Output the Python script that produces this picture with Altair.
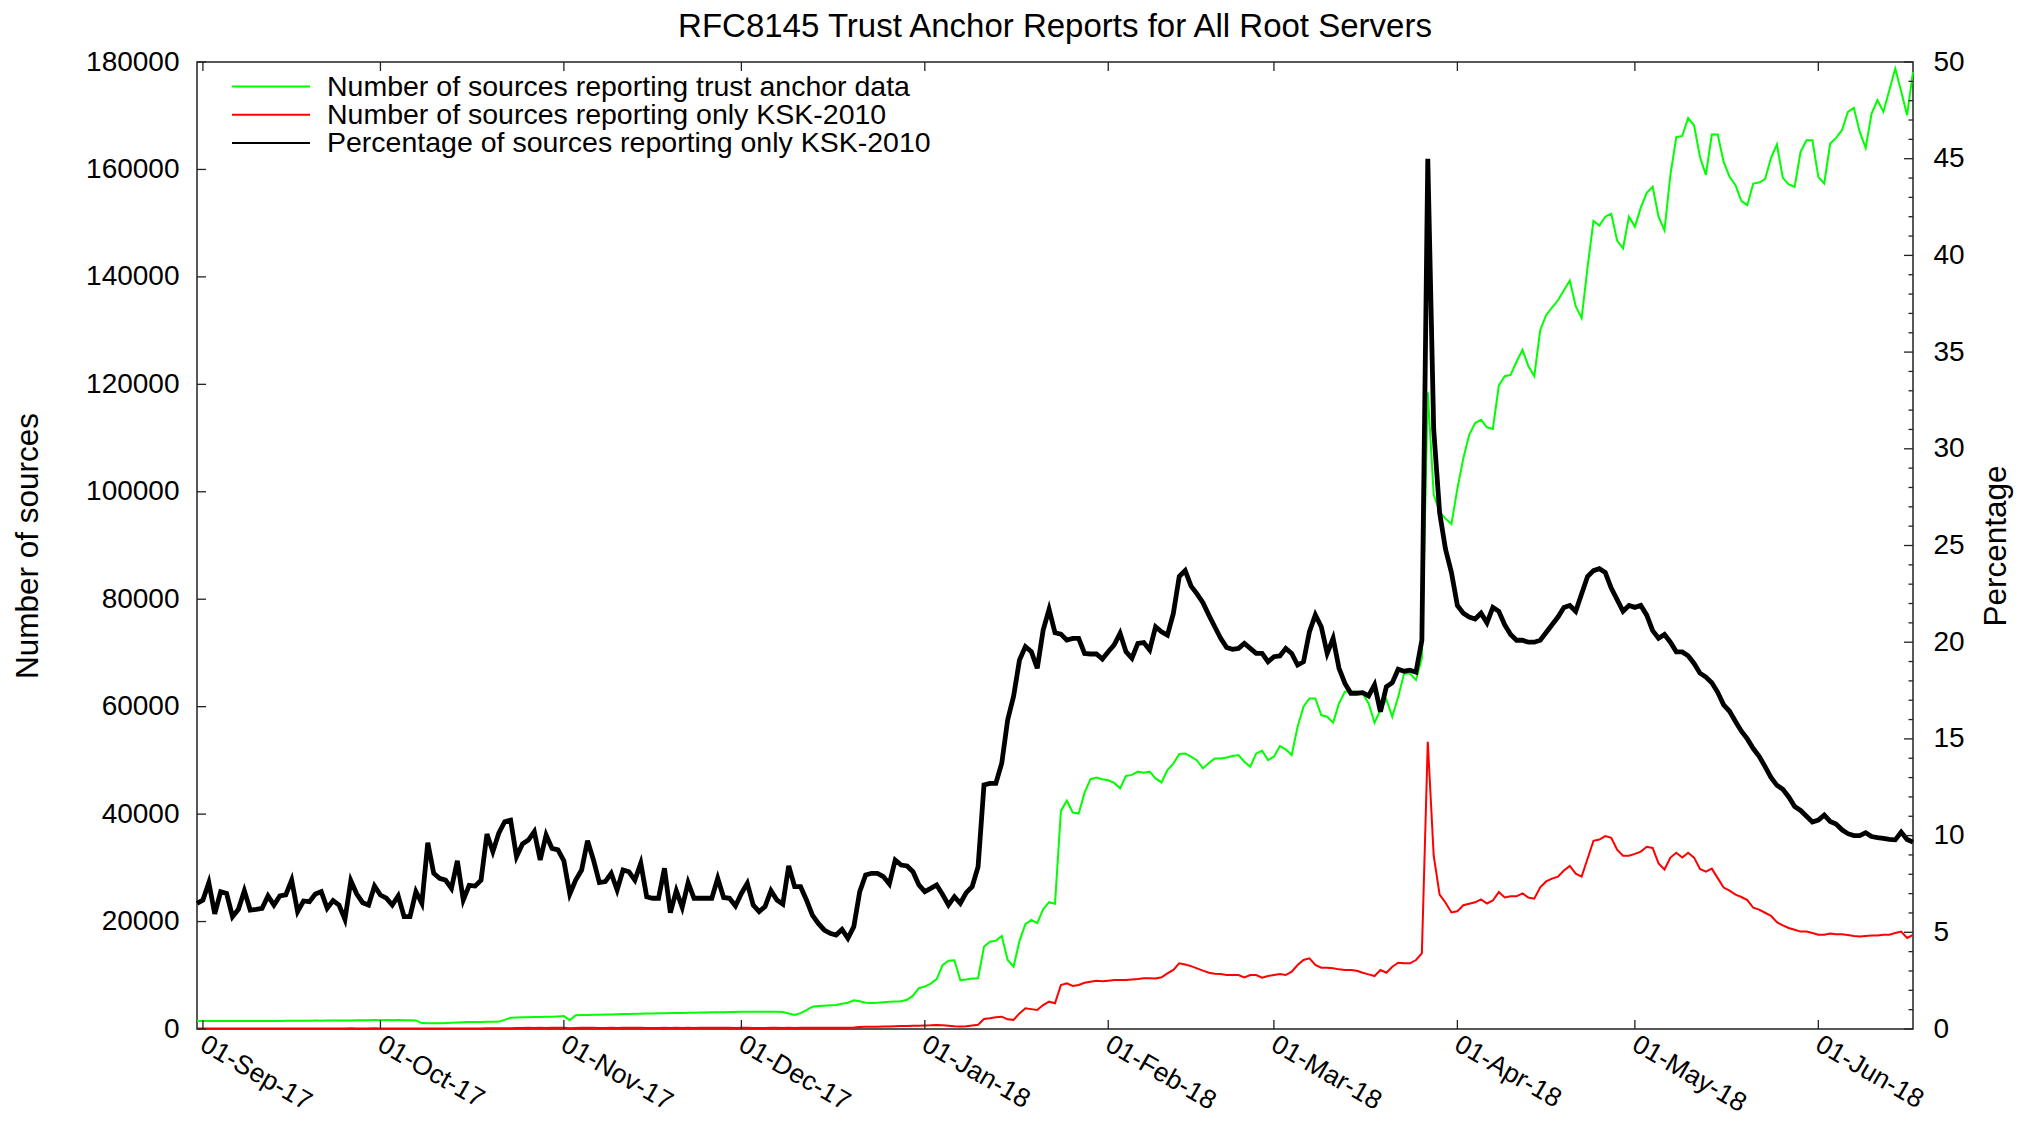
import altair as alt
import pandas as pd

# ---------------- data (daily, starting 31-Aug-2017) ----------------
START = "2017-08-31"
TITLE = "RFC8145 Trust Anchor Reports for All Root Servers"

TOTAL = [
    # 31 Aug - 30 Sep
    1490, 1480, 1500, 1470, 1480, 1490, 1500, 1480, 1470, 1480, 1500, 1510, 1500, 1490, 1510, 1530,
    1520, 1540, 1530, 1550, 1560, 1550, 1570, 1580, 1570, 1590, 1600, 1620, 1640, 1650, 1660,
    # Oct
    1650, 1660, 1650, 1660, 1650, 1640, 1600, 1100, 1050, 1060, 1080, 1100, 1150, 1200, 1250, 1280,
    1300, 1320, 1350, 1360, 1380, 1700, 2100, 2150, 2180, 2200, 2220, 2250, 2270, 2300, 2350,
    # Nov
    2400, 1650, 2550, 2600, 2620, 2640, 2660, 2700, 2720, 2740, 2770, 2800, 2830, 2850, 2880,
    2900, 2920, 2950, 2980, 3000, 3000, 3020, 3040, 3060, 3080, 3100, 3100, 3120, 3150, 3170,
    # Dec
    3200, 3220, 3230, 3220, 3200, 3210, 3230, 3150, 2900, 2620, 2950, 3500, 4150, 4300, 4340, 4400,
    4470, 4700, 4900, 5350, 5150, 4900, 4850, 4900, 5000, 5050, 5100, 5150, 5450, 6200, 7600,
    # Jan
    7900, 8450, 9300, 11900, 12700, 12800, 9100, 9200, 9400, 9450, 15300, 16250, 16450, 17300, 12840,
    11600, 16400, 19500, 20300, 19700, 22300, 23600, 23300, 40600, 42500, 40300, 40100, 44000, 46500,
    46800, 46500,
    # Feb
    46300, 45800, 44800, 47100, 47300, 47900, 47700, 47900, 46650, 45900, 48200, 49400, 51200, 51300,
    50700, 50000, 48510, 49500, 50370, 50370, 50557, 50800, 50990, 49750, 48820, 51300, 51800, 50060,
    # Mar
    50680, 52670, 52045, 50990, 56260, 59980, 61540, 61540, 58435, 58125, 57010, 60605, 62775, 62775,
    62775, 62466, 60605, 57010, 59366, 61350, 58125, 61850, 66190, 66190, 64950, 68980, 118500,
    99500, 96200, 95000, 94000,
    # Apr
    100600, 106200, 110600, 112800, 113400, 112000, 111700, 119750, 121520, 121750, 124200, 126420,
    123420, 121520, 130080, 132860, 134300, 135650, 137500, 139310, 134530, 132320, 141750, 150420,
    149550, 151210, 151760, 146760, 145330, 151210,
    # May
    149330, 152880, 155660, 156770, 151210, 148660, 158980, 166000, 166230, 169560, 168220, 162320,
    158980, 166500, 166500, 161410, 158620, 157070, 154090, 153350, 157380, 157570, 158190, 162150,
    164640, 158430, 157200, 156760, 163270, 165440, 165440,
    # Jun 1 - 17
    158620, 157380, 164820, 165880, 167300, 170720, 171460, 166990, 164020, 170410, 172890, 170720,
    174750, 178780, 174560, 170100, 178160,
]

KSK = [
    # 31 Aug - 30 Sep
    100, 100, 105, 95, 100, 100, 90, 95, 100, 95, 95, 95, 100, 100, 100, 105,
    115, 95, 100, 100, 105, 110, 100, 105, 105, 95, 120, 110, 105, 105, 120,
    # Oct
    115, 110, 110, 115, 95, 95, 115, 75, 100, 85, 80, 80, 85, 100, 80, 95,
    95, 100, 135, 125, 135, 150, 160, 190, 200, 210, 195, 220, 205, 215, 225,
    # Nov
    210, 120, 180, 215, 250, 220, 195, 200, 215, 195, 220, 225, 210, 240, 195,
    195, 200, 245, 180, 210, 190, 235, 205, 210, 210, 210, 240, 215, 215, 200,
    # Dec
    225, 240, 205, 195, 205, 230, 215, 200, 245, 190, 215, 235, 245, 235, 225, 220,
    215, 240, 230, 285, 365, 400, 420, 440, 450, 460, 500, 550, 580, 600, 620,
    # Jan
    650, 680, 750, 700, 600, 500, 450, 500, 650, 800, 1850, 1985, 2171, 2295, 1800,
    1700, 2900, 3846, 3700, 3536, 4466, 5086, 4777, 8188, 8499, 8002, 8188, 8600, 8809,
    8995, 8900,
    # Feb
    9000, 9119, 9119, 9119, 9200, 9300, 9429, 9429, 9400, 9615, 10360, 11000, 12220, 12000,
    11700, 11290, 10855, 10483, 10300, 10236, 10050, 10050, 10050, 9615, 10050, 10050, 9553, 9863,
    # Mar
    10050, 10236, 10050, 10670, 11910, 12841, 13150, 11910, 11410, 11410, 11290, 11100, 10980, 10980,
    10855, 10483, 10174, 9863, 10980, 10483, 11600, 12343, 12220, 12220, 12841, 14080, 53470,
    32260, 25030, 23500, 21690,
    # Apr
    21920, 23030, 23300, 23580, 24140, 23360, 23920, 25480, 24480, 24700, 24700, 25250,
    24480, 24250, 26370, 27470, 28000, 28360, 29500, 30370, 28920, 28360, 31690, 35040,
    35270, 35920, 35580, 33370, 32260, 32260,
    # May
    32590, 33030, 33930, 33700, 30820, 29700, 31920, 32810, 31920, 32810, 31900, 29800,
    29300, 29850, 28080, 26330, 25740, 25000, 24570, 23990, 22570, 22220, 21640, 21050,
    19880, 19300, 18800, 18480, 18130, 18130, 17880,
    # Jun 1 - 17
    17530, 17530, 17770, 17650, 17650, 17480, 17310, 17200, 17310, 17420, 17420, 17530,
    17530, 17880, 18130, 16950, 17530,
]

PCT = [
    # 31 Aug - 30 Sep
    6.50, 6.67, 7.57, 5.95, 7.10, 7.01, 5.81, 6.19, 7.15, 6.15, 6.19, 6.24, 6.88, 6.41, 6.88, 6.93,
    7.70, 6.07, 6.62, 6.58, 6.98, 7.10, 6.24, 6.64, 6.41, 5.67, 7.67, 6.98, 6.53, 6.41, 7.39,
    # Oct
    6.93, 6.76, 6.41, 6.88, 5.81, 5.81, 7.10, 6.50, 9.63, 8.05, 7.79, 7.70, 7.27, 8.70, 6.67, 7.43,
    7.39, 7.70, 10.08, 9.17, 10.12, 10.72, 10.80, 8.91, 9.57, 9.77, 10.20, 8.74, 10.03, 9.34, 9.26,
    # Nov
    8.70, 6.98, 7.70, 8.22, 9.74, 8.74, 7.57, 7.62, 8.05, 7.19, 8.22, 8.13, 7.70, 8.57, 6.84,
    6.76, 6.76, 8.31, 6.02, 7.15, 6.29, 7.57, 6.76, 6.76, 6.76, 6.76, 7.79, 6.80, 6.76, 6.36,
    # Dec
    7.01, 7.53, 6.41, 6.07, 6.33, 7.15, 6.67, 6.46, 8.43, 7.36, 7.36, 6.67, 5.89, 5.46, 5.12, 4.95,
    4.86, 5.15, 4.69, 5.29, 7.10, 7.96, 8.05, 8.05, 7.88, 7.50, 8.74, 8.48, 8.43, 8.13, 7.45,
    # Jan
    7.10, 7.27, 7.45, 6.95, 6.41, 6.84, 6.50, 7.05, 7.36, 8.39, 12.62, 12.70, 12.70, 13.74, 15.98,
    17.20, 19.08, 19.77, 19.51, 18.65, 20.63, 21.70, 20.49, 20.42, 20.11, 20.20, 20.20, 19.42, 19.39,
    19.39, 19.13,
    # Feb
    19.51, 19.86, 20.46, 19.51, 19.17, 19.94, 19.98, 19.60, 20.80, 20.54, 20.37, 21.49, 23.40, 23.70,
    22.90, 22.50, 22.04, 21.40, 20.80, 20.20, 19.73, 19.63, 19.68, 19.94, 19.68, 19.42, 19.42, 18.99,
    # Mar
    19.25, 19.29, 19.68, 19.42, 18.82, 18.99, 20.54, 21.41, 20.80, 19.42, 20.20, 18.65, 17.87, 17.36,
    17.36, 17.39, 17.22, 17.79, 16.41, 17.70, 17.91, 18.60, 18.50, 18.55, 18.45, 20.10, 45.00,
    31.00, 26.70, 24.80, 23.60,
    # Apr
    21.90, 21.50, 21.30, 21.20, 21.50, 21.00, 21.80, 21.60, 20.90, 20.40, 20.10, 20.10,
    20.00, 20.00, 20.10, 20.50, 20.90, 21.30, 21.80, 21.90, 21.60, 22.50, 23.40, 23.70,
    23.80, 23.60, 22.80, 22.20, 21.60, 21.90,
    # May
    21.80, 21.90, 21.40, 20.60, 20.20, 20.40, 20.00, 19.50, 19.50, 19.30, 18.90, 18.40,
    18.20, 17.90, 17.41, 16.76, 16.43, 15.90, 15.40, 15.00, 14.50, 14.10, 13.57, 13.01,
    12.60, 12.40, 12.00, 11.50, 11.30, 11.00, 10.70,
    # Jun 1 - 17
    10.80, 11.06, 10.73, 10.60, 10.30, 10.10, 10.00, 10.00, 10.15, 9.95, 9.90, 9.86,
    9.80, 9.78, 10.18, 9.80, 9.66,
]

MONTH_TICKS = ["2017-09-01", "2017-10-01", "2017-11-01", "2017-12-01", "2018-01-01",
               "2018-02-01", "2018-03-01", "2018-04-01", "2018-05-01", "2018-06-01"]
MONTH_LABELS = ["01-Sep-17", "01-Oct-17", "01-Nov-17", "01-Dec-17", "01-Jan-18",
                "01-Feb-18", "01-Mar-18", "01-Apr-18", "01-May-18", "01-Jun-18"]
LEFT_TICKS = list(range(0, 180001, 20000))
RIGHT_MAJOR = list(range(0, 51, 5))
RIGHT_MINOR = [v for v in range(0, 51) if v % 5]

SERIES = ["Number of sources reporting trust anchor data",
          "Number of sources reporting only KSK-2010",
          "Percentage of sources reporting only KSK-2010"]
COLORS = ["#00ff00", "#ff0000", "#000000"]
WIDTHS = [2, 2, 4.8]

assert len(TOTAL) == len(KSK) == len(PCT)

dates = pd.date_range(START, periods=len(TOTAL), freq="D").strftime("%Y-%m-%d")
df = pd.DataFrame({"date": list(dates), "total": TOTAL, "ksk": KSK, "pct": PCT})
month_df = pd.DataFrame({"date": MONTH_TICKS, "label": MONTH_LABELS})
left_df = pd.DataFrame({"v": LEFT_TICKS})
rmaj_df = pd.DataFrame({"v": RIGHT_MAJOR})
rmin_df = pd.DataFrame({"v": RIGHT_MINOR})
leg_df = pd.DataFrame({"name": SERIES})
title_df = pd.DataFrame({"t": [TITLE]})

# ---------------- layout / style ----------------
W, H = 1716, 967
FONT = "Liberation Sans"
FS = 28
TICK_COLOR = "#222222"


def dt(s):
    y, m, d = (int(p) for p in s.split("-"))
    return alt.DateTime(year=y, month=m, date=d, utc=True)


xscale = alt.Scale(type="utc", domain=[dt("2017-08-31"), dt("2018-06-17")])
X = alt.X("date:T", scale=xscale, axis=None)

yl_scale = alt.Scale(domain=[0, 180000], nice=False, zero=True)
yr_scale = alt.Scale(domain=[0, 50], nice=False, zero=True)

yl_axis = alt.Axis(orient="left", values=LEFT_TICKS, format="d", labelFontSize=FS,
                   labelPadding=18, labelColor="#000", ticks=False, tickSize=0,
                   domain=False, grid=False, title="Number of sources",
                   titleFontSize=31.5, titleFontWeight="normal", titleColor="#000",
                   titleAngle=270, titleX=-169, titleY=H / 2,
                   titleAlign="center", titleBaseline="middle")
yr_axis = alt.Axis(orient="right", values=RIGHT_MAJOR, format="d", labelFontSize=FS,
                   labelPadding=20, labelColor="#000", ticks=False, tickSize=0,
                   domain=False, grid=False, title="Percentage",
                   titleFontSize=31.5, titleFontWeight="normal", titleColor="#000",
                   titleAngle=270, titleX=83, titleY=H / 2,
                   titleAlign="center", titleBaseline="middle")

base = alt.Chart(df)

green = base.mark_line(color=COLORS[0], strokeWidth=WIDTHS[0]).encode(
    x=X, y=alt.Y("total:Q", scale=yl_scale, axis=yl_axis))
red = base.mark_line(color=COLORS[1], strokeWidth=WIDTHS[1]).encode(
    x=X, y=alt.Y("ksk:Q", scale=yl_scale, axis=None))
black = base.mark_line(color=COLORS[2], strokeWidth=WIDTHS[2]).encode(
    x=X, y=alt.Y("pct:Q", scale=yr_scale, axis=yr_axis))

# inward tick marks (gnuplot style)
left_ticks = alt.Chart(left_df).mark_rule(color=TICK_COLOR, strokeWidth=1.3).encode(
    y=alt.Y("v:Q", scale=yl_scale, axis=None), x=alt.value(0), x2=alt.value(9))
right_major = alt.Chart(rmaj_df).mark_rule(color=TICK_COLOR, strokeWidth=1.3).encode(
    y=alt.Y("v:Q", scale=yr_scale, axis=None), x=alt.value(W), x2=alt.value(W - 9))
right_minor = alt.Chart(rmin_df).mark_rule(color=TICK_COLOR, strokeWidth=1.3).encode(
    y=alt.Y("v:Q", scale=yr_scale, axis=None), x=alt.value(W), x2=alt.value(W - 4.5))
bottom_ticks = alt.Chart(month_df).mark_rule(color=TICK_COLOR, strokeWidth=1.3).encode(
    x=X, y=alt.value(H), y2=alt.value(H - 9))
top_ticks = alt.Chart(month_df).mark_rule(color=TICK_COLOR, strokeWidth=1.3).encode(
    x=X, y=alt.value(0), y2=alt.value(9))

# rotated month labels under the x axis
month_labels = alt.Chart(month_df).mark_text(align="left", baseline="top", angle=30,
                                             fontSize=26.5, font=FONT, color="#000",
                                             xOffset=6).encode(
    x=X, y=alt.value(H + 2), text="label:N")

# key (top-left, inside the plot)
leg_y = alt.Y("name:N", scale=alt.Scale(type="point", domain=SERIES, range=[24.5, 81], padding=0),
              axis=None)
leg_lines = alt.Chart(leg_df).mark_rule().encode(
    y=leg_y, x=alt.value(35), x2=alt.value(113),
    color=alt.Color("name:N", scale=alt.Scale(domain=SERIES, range=COLORS), legend=None),
    strokeWidth=alt.StrokeWidth("name:N", scale=alt.Scale(domain=SERIES, range=WIDTHS), legend=None),
)
leg_text = alt.Chart(leg_df).mark_text(align="left", baseline="middle", fontSize=28.5,
                                       font=FONT, color="#000").encode(
    y=leg_y, x=alt.value(130), text="name:N")

# chart title, centred over the plot area
title_mark = alt.Chart(title_df).mark_text(align="center", baseline="alphabetic", fontSize=33,
                                           font=FONT, color="#000").encode(
    x=alt.value(W / 2), y=alt.value(-25), text="t:N")

chart = alt.layer(
    green, red, black, left_ticks, right_major, right_minor, bottom_ticks, top_ticks,
    month_labels, leg_lines, leg_text, title_mark,
).resolve_scale(y="independent").properties(
    width=W, height=H,
    padding={"left": 189, "top": 54, "right": 103, "bottom": 89},
    autosize=alt.AutoSizeParams(type="none"),
).configure(font=FONT, background="white").configure_view(stroke="#222222", strokeWidth=1.5)

chart.save("out.html", embed_options={"renderer": "svg", "actions": False})
